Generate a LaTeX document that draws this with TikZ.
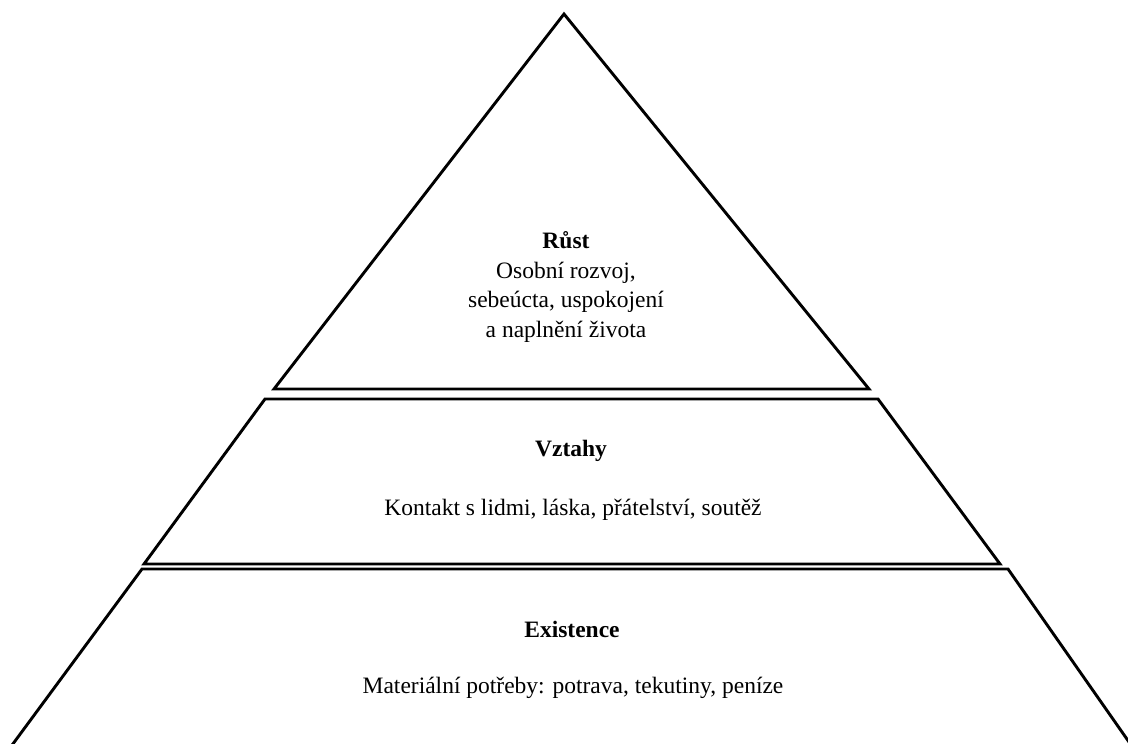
\documentclass[tikz,border=0pt]{standalone}
\usepackage{fontspec}
\setmainfont{Liberation Serif}
\usetikzlibrary{positioning}

\tikzset{
  level/.style={line width=2.9pt, line join=miter},
  label/.style={font=\fontsize{23.5}{29.5}\selectfont, align=center, inner sep=0pt}
}

\begin{document}
\begin{tikzpicture}[x=1pt, y=-1pt]
        \useasboundingbox (0,0) rectangle (1128,744);
        \clip (0,0) rectangle (1128,744);

        % corners
        \coordinate (apex) at (564,14);
        \coordinate (topL) at (274,389);
        \coordinate (topR) at (869,389);
        \coordinate (midTL) at (265,399);
        \coordinate (midTR) at (878,399);
        \coordinate (midBL) at (144,564);
        \coordinate (midBR) at (1000,564);
        \coordinate (botTL) at (142,569);
        \coordinate (botTR) at (1008,569);
        \coordinate (botBL) at (4,756);
        \coordinate (botBR) at (1136,752);

        \draw[level] (apex) -- (topR) -- (topL) -- cycle;
        \draw[level] (midTL) -- (midTR) -- (midBR) -- (midBL) -- cycle;
        \draw[level] (botBL) -- (botTL) -- (botTR) -- (botBR);

        %top
        \node[label] (rust) at (566,287) {\textbf{Růst}\\Osobní rozvoj,\\sebeúcta, uspokojení\\a naplnění života};

        %middle
        \node[label] (vztahy) at (571,451) {\textbf{Vztahy}};
        \node[label] (kontakt) at (573,510) {Kontakt s lidmi, láska, přátelství, soutěž};

        %bottom
        \node[label] (existence) at (572,629) {\textbf{Existence}};
        \node[label] (potreby) at (573,688) {Materiální potřeby: potrava, tekutiny, peníze};
\end{tikzpicture}
\end{document}
